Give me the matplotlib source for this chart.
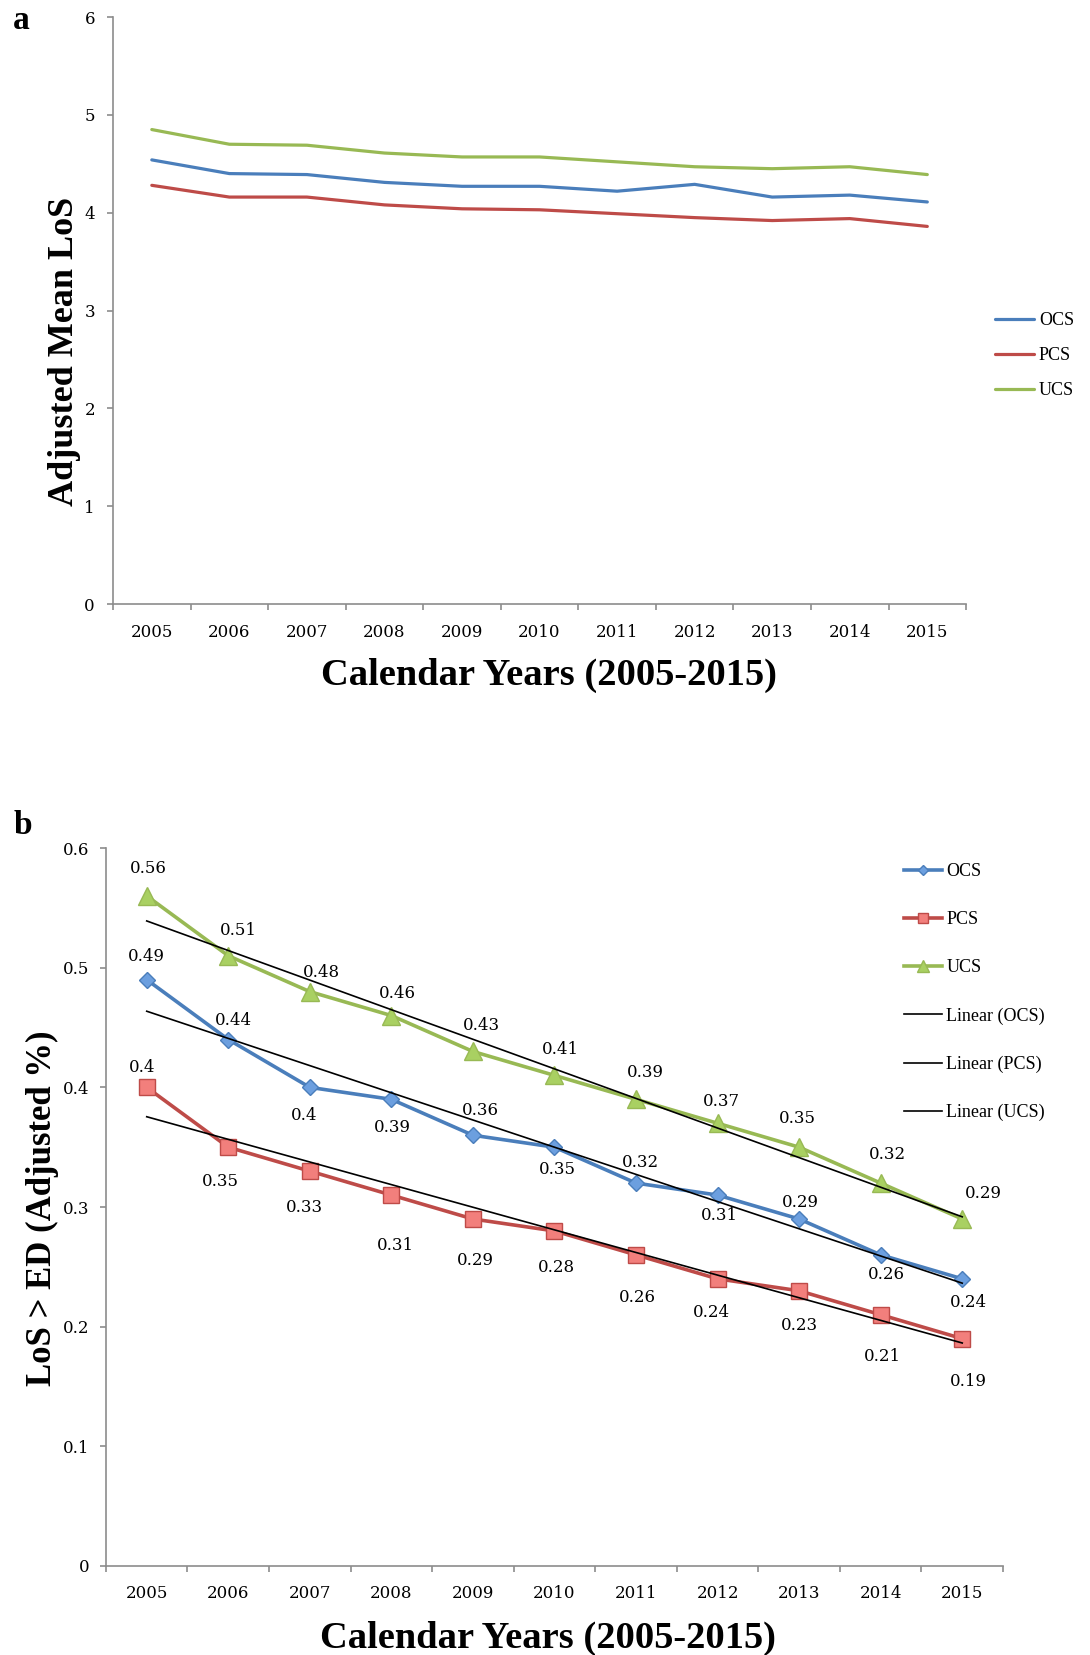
import numpy as np
import matplotlib
matplotlib.use('Agg')
import matplotlib.pyplot as plt

# Категории и данные
years = ['2005', '2006', '2007', '2008', '2009', '2010', '2011', '2012', '2013', '2014', '2015']

# panel a: adjusted mean LoS
los_ocs = [4.54, 4.40, 4.39, 4.31, 4.27, 4.27, 4.22, 4.29, 4.16, 4.18, 4.11]
los_pcs = [4.28, 4.16, 4.16, 4.08, 4.04, 4.03, 3.99, 3.95, 3.92, 3.94, 3.86]
los_ucs = [4.85, 4.70, 4.69, 4.61, 4.57, 4.57, 4.52, 4.47, 4.45, 4.47, 4.39]

# panel b: LoS > ED (adjusted %)
ed_ocs = [0.49, 0.44, 0.40, 0.39, 0.36, 0.35, 0.32, 0.31, 0.29, 0.26, 0.24]
ed_pcs = [0.40, 0.35, 0.33, 0.31, 0.29, 0.28, 0.26, 0.24, 0.23, 0.21, 0.19]
ed_ucs = [0.56, 0.51, 0.48, 0.46, 0.43, 0.41, 0.39, 0.37, 0.35, 0.32, 0.29]

# смещения подписей (в пунктах)
off_ocs = [(0, 17), (4, 14), (-4, -20.5), (1, -20), (5, 17.5), (2, -16),
           (3, 15), (1.5, -14.5), (1, 12), (4, -14), (4.5, -17)]
off_pcs = [(-3, 14.5), (-6, -25), (-4, -26.5), (3, -36), (2, -30), (1.5, -26),
           (1, -31), (-4.5, -24), (0, -25), (1.5, -30), (4.5, -31)]
off_ucs = [(1.5, 20), (7, 18), (8, 14), (4.5, 16), (6, 19), (4.5, 19),
           (7, 19), (3, 16), (-1, 21), (5, 20.5), (15, 18)]

BLUE, RED, GREEN = '#4A7EBB', '#BE4B48', '#98B954'
GREY = '#8C8C8C'
NUM_FONT = ['DejaVu Serif']

plt.rcParams['font.family'] = ['Liberation Serif', 'DejaVu Serif']
plt.rcParams['font.size'] = 13

fig = plt.figure(figsize=(10.9, 16.55), dpi=100)
x = np.arange(len(years))


def style_axes(ax, ypad):
    for s in ['top', 'right']:
        ax.spines[s].set_visible(False)
    for s in ['left', 'bottom']:
        ax.spines[s].set_color(GREY)
        ax.spines[s].set_linewidth(1.2)
    ax.set_xlim(-0.5, len(years) - 0.5)
    # деления на границах категорий, подписи по центру
    ax.set_xticks(np.arange(-0.5, len(years), 1.0))
    ax.set_xticklabels([])
    ax.set_xticks(x, minor=True)
    ax.set_xticklabels(years, minor=True, family=NUM_FONT, fontsize=12)
    ax.tick_params(axis='x', which='major', length=4, width=1.2, color=GREY, direction='out')
    ax.tick_params(axis='x', which='minor', length=0, pad=14)
    ax.tick_params(axis='y', length=4, width=1.2, color=GREY, direction='out', pad=ypad)
    for lab in ax.get_yticklabels():
        lab.set_family(NUM_FONT)
        lab.set_fontsize(12)


# ---- график a ----
ax1 = fig.add_axes([0.1037, 0.635, 0.7826, 0.3547])
ax1.plot(x, los_ocs, color=BLUE, lw=2.3, label='OCS', solid_capstyle='round')
ax1.plot(x, los_pcs, color=RED, lw=2.3, label='PCS', solid_capstyle='round')
ax1.plot(x, los_ucs, color=GREEN, lw=2.3, label='UCS', solid_capstyle='round')
ax1.set_ylim(0, 6)
ax1.set_yticks(range(0, 7))
style_axes(ax1, 9)
ax1.set_ylabel('Adjusted Mean LoS', fontsize=26, fontweight='bold', va='center')
ax1.yaxis.set_label_coords(-0.057, 0.431)
ax1.set_xlabel('Calendar Years (2005-2015)', fontsize=27.7, fontweight='bold', va='center')
ax1.xaxis.set_label_coords(0.511, -0.121)
ax1.legend(loc='upper left', bbox_to_anchor=(0.9128, 0.8113), bbox_transform=fig.transFigure,
           frameon=False, fontsize=13, handlelength=2.15, handletextpad=0.28,
           labelspacing=1.0, borderpad=0, borderaxespad=0)
fig.text(0.0117, 0.9876, 'a', fontsize=24, fontweight='bold', va='center')

# ---- график b ----
ax2 = fig.add_axes([0.0972, 0.05378, 0.823, 0.4338])
series = [
    ('OCS', ed_ocs, BLUE, '#6C9FDF', 'D', 8, off_ocs),
    ('PCS', ed_pcs, RED, '#F27F7C', 's', 11.5, off_pcs),
    ('UCS', ed_ucs, GREEN, '#A9D062', '^', 12.5, off_ucs),
]
handles = []
for name, vals, col, fc, mk, ms, offs in series:
    h, = ax2.plot(x, vals, color=col, lw=2.6, marker=mk, markersize=ms,
                  markerfacecolor=fc, markeredgecolor=col, markeredgewidth=1.0,
                  label=name, zorder=3)
    handles.append(h)
    for xi, v, (dx, dy) in zip(x, vals, offs):
        ax2.annotate(f'{v:g}', (xi, v), xytext=(dx, dy), textcoords='offset points',
                     ha='center', va='center', fontsize=12, family=NUM_FONT, zorder=5)

trend = []
for name, vals, *_ in series:
    k, b = np.polyfit(x, vals, 1)
    t, = ax2.plot(x, k * x + b, color='black', lw=1.2, label=f'Linear ({name})', zorder=4)
    trend.append(t)

ax2.set_ylim(0, 0.6)
ax2.set_yticks([0, 0.1, 0.2, 0.3, 0.4, 0.5, 0.6])
ax2.set_yticklabels(['0', '0.1', '0.2', '0.3', '0.4', '0.5', '0.6'])
style_axes(ax2, 8)
ax2.set_ylabel('LoS > ED (Adjusted %)', fontsize=25, fontweight='bold', va='center')
ax2.yaxis.set_label_coords(-0.0713, 0.4986)
ax2.set_xlabel('Calendar Years (2005-2015)', fontsize=27.7, fontweight='bold', va='center')
ax2.xaxis.set_label_coords(0.493, -0.1013)
ax2.legend(handles=handles + trend, loc='upper left', bbox_to_anchor=(0.8294, 0.4785),
           bbox_transform=fig.transFigure, frameon=False, fontsize=13,
           handlelength=2.1, handletextpad=0.25, labelspacing=1.72,
           borderpad=0, borderaxespad=0, markerscale=0.65)
fig.text(0.0122, 0.5014, 'b', fontsize=24, fontweight='bold', va='center')

fig.savefig('out.png', dpi=100)
